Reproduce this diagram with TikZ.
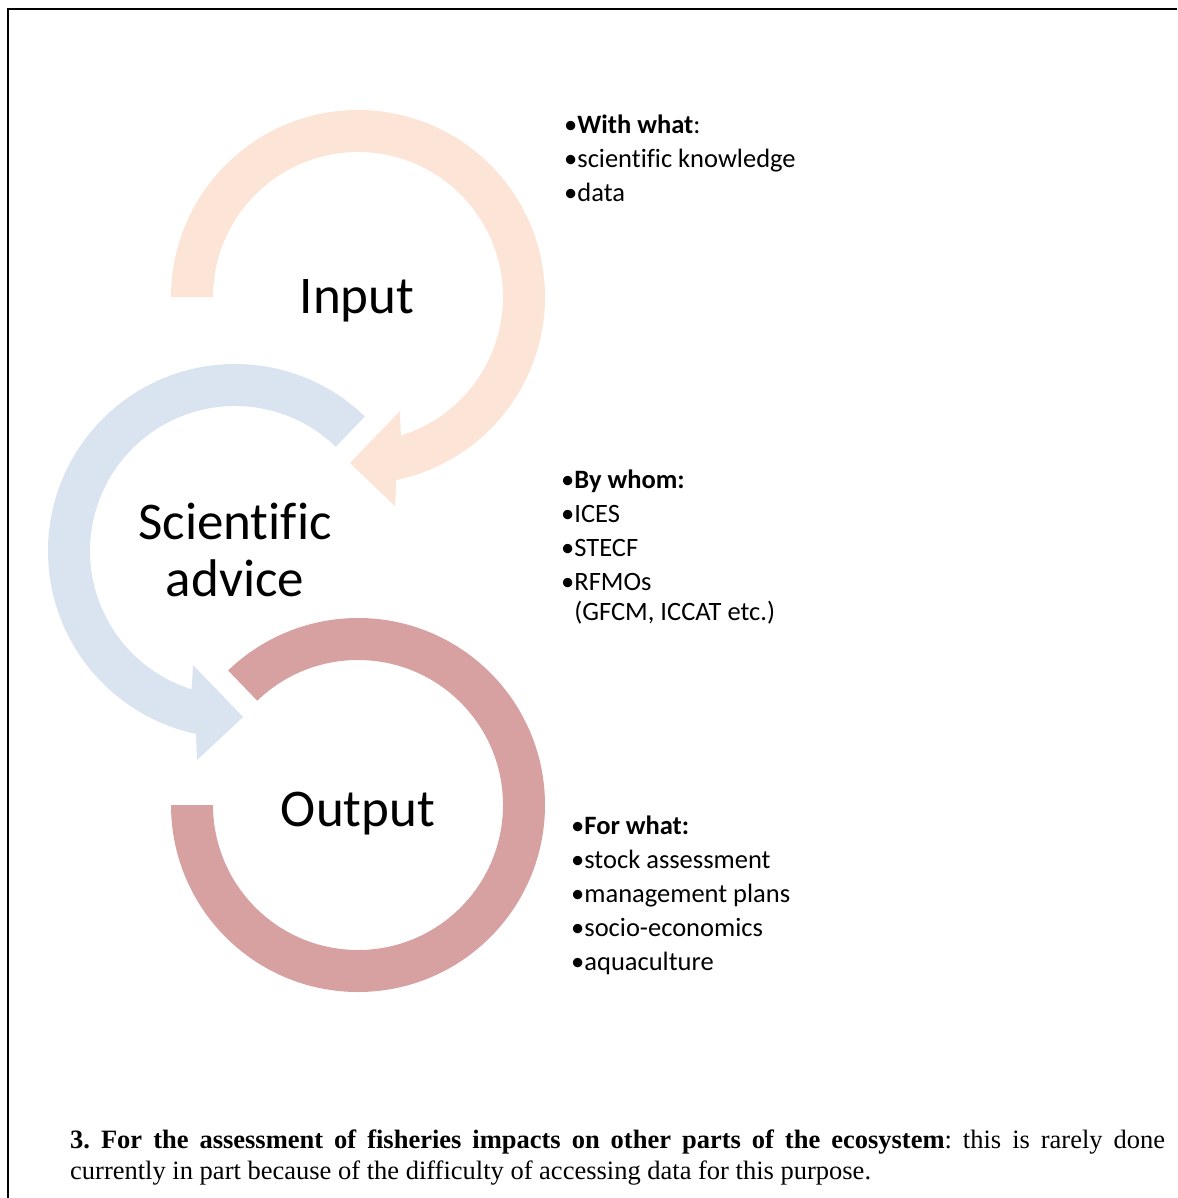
\documentclass[tikz,border=0pt]{standalone}
\usepackage{fontspec}
\setmainfont{Carlito}[Ligatures=NoCommon]
\newfontfamily\tnr{Liberation Serif}
\definecolor{inpc}{HTML}{FCE5D6}
\definecolor{advc}{HTML}{DAE3F0}
\definecolor{outc}{HTML}{D7A1A1}
\begin{document}
\begin{tikzpicture}[x=1pt,y=1pt,
  biglabel/.style={font=\fontsize{53}{57}\selectfont, inner sep=0pt, align=center},
  listtext/.style={font=\fontsize{26.5}{34}\selectfont, inner sep=0pt, align=left},
  foottext/.style={font=\tnr\fontsize{26.5}{31}\selectfont\frenchspacing, inner sep=0pt, align=left}]
\useasboundingbox (0,0) rectangle (1177,-1198);
% frame
\coordinate (fbl) at (8,-1198);
\coordinate (ftl) at (8,-9);
\coordinate (ftr) at (1177,-9);
\draw[line width=2.5pt] (fbl) -- (ftl) -- (ftr);
% Input arrow
\begin{scope}[shift={(358,-297)}]
\fill[inpc] (180:187) arc[start angle=180,end angle=-78.2,radius=187]
  -- (37,-209) -- (-8,-166) -- (42,-114) -- (-72.8:145)
  arc[start angle=-72.8,end angle=180,radius=145] -- cycle;
\end{scope}
% Scientific advice arrow
\begin{scope}[shift={(235,-551)}]
\fill[advc] (46:187) arc[start angle=46,end angle=258,radius=187]
  -- (-38,-209) -- (8,-166) -- (-42,-114) -- (252.6:145)
  arc[start angle=252.6,end angle=46,radius=145] -- cycle;
\end{scope}
% Output ring
\begin{scope}[shift={(358,-805)}]
\fill[outc] (180:187) arc[start angle=180,end angle=494,radius=187]
  -- (494:145) arc[start angle=494,end angle=180,radius=145] -- cycle;
\end{scope}
% labels (base anchor = baseline of last line)
\node[biglabel, anchor=base] (inp) at (357,-313) {Input};
\node[biglabel, anchor=base] (adv) at (235,-596) {Scientific\\advice};
\node[biglabel, anchor=base] (outp) at (358,-826) {Output};
% lists
\node[listtext, anchor=base west] (with) at (564,-202)
  {•\textbf{With what}:\\•scientific knowledge\\•data};
\node[listtext, anchor=base west] (whom) at (561,-620)
  {•\textbf{By whom:}\\•ICES\\•STECF\\•RFMOs\\[-4pt]\phantom{•}(GFCM, ICCAT etc.)};
\node[listtext, anchor=base west] (forwhat) at (571,-970)
  {•\textbf{For what:}\\•stock assessment\\•management plans\\•socio-economics\\•aquaculture};
% footer text
\node[foottext, anchor=base west] (foot) at (70,-1179)
  {\makebox[1095pt][s]{\textbf{3. For the assessment of fisheries impacts on other parts of the ecosystem}: this is rarely done}\\
   currently in part because of the difficulty of accessing data for this purpose.};
\end{tikzpicture}
\end{document}
